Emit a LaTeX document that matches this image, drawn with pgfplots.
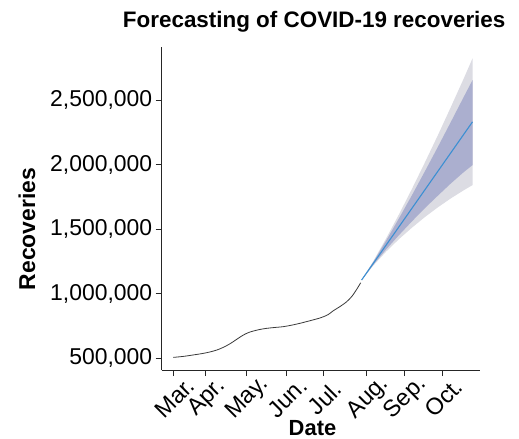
\documentclass[border=0pt]{standalone}
\usepackage{pgfplots}
\pgfplotsset{compat=1.18}
\usepackage{fontspec}
\setmainfont{Liberation Sans}

\definecolor{outerband}{HTML}{DCDCE3}
\definecolor{innerband}{HTML}{ABAFCF}
\definecolor{fcline}{HTML}{3C8FD2}
\definecolor{obsline}{HTML}{3A3A3A}

\begin{document}
\begin{tikzpicture}
\path[use as bounding box] (-161.7bp,-69bp) rectangle (357.3bp,370bp);
\begin{axis}[
  at={(0,0)}, anchor=south west,
  scale only axis,
  width=318.3bp, height=323.3bp,
  xmin=-9, xmax=237.8,
  ymin=409400, ymax=2912700,
  axis x line*=bottom, axis y line*=left,
  axis line style={line width=0.9bp, black!85},
  tick style={line width=0.9bp, black!85},
  tick align=outside,
  major tick length=6bp,
  xtick={0,25.3,56.4,87.4,116.3,149.9,179.1,208.5},
  xticklabels={Mar.,Apr.,May.,Jun.,Jul.,Aug.,Sep.,Oct.},
  xticklabel style={xshift=1.5bp, yshift=-22bp, rotate=45, anchor=center,
    font=\fontsize{23.5}{23.5}\selectfont, inner sep=0bp},
  ytick={500000,1000000,1500000,2000000,2500000},
  scaled y ticks=false,
  yticklabel style={font=\fontsize{23}{23}\selectfont,
    /pgf/number format/fixed,
    /pgf/number format/precision=0,
    /pgf/number format/1000 sep={,},
    /pgf/number format/assume math mode=true},
]
% 95% interval
\addplot[fill=outerband, draw=none] coordinates {
  (146,1106000) (155,1251000) (165,1428000) (175,1615000) (185,1811000)
  (195,2015000) (205,2224000) (215,2441000) (225,2662000) (232,2822000)
  (232,1841000) (225,1800000) (215,1737000) (205,1668000) (195,1593000)
  (185,1511000) (175,1423000) (165,1326000) (155,1217000) (146,1106000)
};
% 80% interval
\addplot[fill=innerband, draw=none] coordinates {
  (146,1106000) (155,1245000) (165,1411000) (175,1584000) (185,1762000)
  (195,1946000) (205,2134000) (215,2326000) (225,2520000) (232,2654000)
  (232,1996000) (225,1940000) (215,1852000) (205,1758000) (195,1662000)
  (185,1560000) (175,1454000) (165,1343000) (155,1223000) (146,1106000)
};
% observed recoveries
\addplot[obsline, line width=0.8bp, smooth] coordinates {
  (0,507000) (8,515000) (15.5,526000) (22,536000) (28.4,549000) (34,565000)
  (38.8,585000) (43,607000) (46.5,629000) (50.5,656000) (54.3,680000)
  (58,698000) (62,711000) (67,723000) (72.4,732000) (78,738000)
  (85.3,745000) (92,757000) (98.2,771000) (106,791000) (114.3,814000)
  (120,838000) (124,868000) (129,899000) (134.4,938000) (138.5,980000)
  (142.2,1034000) (145.3,1085000)
};
% forecast
\addplot[fcline, line width=1.1bp] coordinates {
  (146,1106000) (189,1718000) (232,2331000)
};
\end{axis}
\node[font=\fontsize{22.5}{22.5}\selectfont\bfseries, anchor=base] at (152.5bp,342.5bp) {Forecasting of COVID-19 recoveries};
\node[font=\fontsize{22}{22}\selectfont\bfseries, anchor=base] at (150.8bp,-65bp) {Date};
\node[font=\fontsize{23}{23}\selectfont\bfseries, rotate=90, anchor=base] at (-126.5bp,141bp) {Recoveries};
\end{tikzpicture}
\end{document}
